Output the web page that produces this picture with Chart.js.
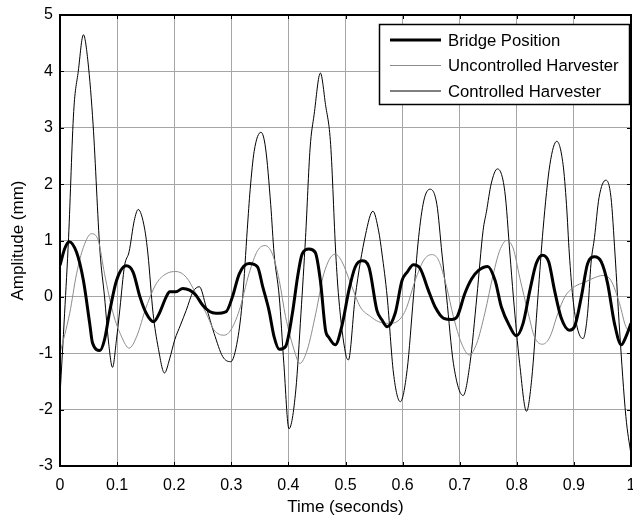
<!DOCTYPE html>
<html><head><meta charset="utf-8">
<script src="https://cdn.jsdelivr.net/npm/chart.js@4/dist/chart.umd.min.js"></script>
<style>html,body{margin:0;padding:0;background:#fff}#wrap{width:633px;height:516px}</style>
</head><body><div id="wrap"><canvas id="c" width="633" height="516"></canvas></div>
<script>
const seriesLabels = ['Bridge Position', 'Uncontrolled Harvester', 'Controlled Harvester'];
const xTicks = [0,0.1,0.2,0.3,0.4,0.5,0.6,0.7,0.8,0.9,1];
const yTicks = [-3,-2,-1,0,1,2,3,4,5];

const bridgeT = [0,0.008,0.016,0.029,0.041,0.052,0.057,0.07,0.078,0.087,0.099,0.116,0.128,0.14,0.151,0.164,0.174,0.186,0.192,0.203,0.215,0.227,0.238,0.25,0.262,0.273,0.291,0.302,0.314,0.331,0.346,0.355,0.366,0.375,0.384,0.395,0.407,0.416,0.424,0.436,0.447,0.456,0.465,0.471,0.482,0.494,0.506,0.517,0.529,0.541,0.555,0.564,0.573,0.587,0.599,0.608,0.619,0.631,0.645,0.657,0.672,0.686,0.695,0.709,0.721,0.733,0.749,0.762,0.773,0.788,0.799,0.811,0.823,0.834,0.845,0.856,0.866,0.878,0.892,0.901,0.913,0.924,0.936,0.948,0.959,0.971,0.983,0.991,1.0];
const bridgeY = [0.56,0.85,0.98,0.79,0.29,-0.47,-0.82,-0.95,-0.76,-0.26,0.29,0.55,0.44,0,-0.29,-0.44,-0.29,0,0.09,0.09,0.15,0.12,0.03,-0.15,-0.26,-0.29,-0.26,0,0.41,0.59,0.53,0.18,-0.24,-0.71,-0.93,-0.88,-0.29,0.35,0.76,0.85,0.79,0.29,-0.59,-0.72,-0.85,-0.5,0.12,0.53,0.64,0.53,-0.24,-0.41,-0.53,-0.29,0.29,0.44,0.57,0.5,0.12,-0.18,-0.38,-0.4,-0.36,0.06,0.32,0.47,0.54,0.29,-0.18,-0.53,-0.69,-0.47,0.12,0.59,0.74,0.62,0.12,-0.38,-0.59,-0.53,0,0.59,0.71,0.62,0.24,-0.47,-0.85,-0.71,-0.47];

const uncontrolledT = [0,0.017,0.029,0.041,0.055,0.067,0.078,0.093,0.108,0.121,0.134,0.151,0.169,0.186,0.203,0.221,0.238,0.256,0.27,0.288,0.299,0.314,0.331,0.346,0.359,0.372,0.384,0.395,0.41,0.42,0.433,0.448,0.462,0.482,0.494,0.509,0.526,0.544,0.558,0.576,0.59,0.605,0.622,0.637,0.651,0.663,0.677,0.689,0.703,0.717,0.73,0.744,0.759,0.77,0.782,0.794,0.805,0.82,0.831,0.845,0.858,0.872,0.884,0.901,0.919,0.936,0.951,0.965,0.98,0.991,1.0];
const uncontrolledY = [-1.0,-0.29,0.41,0.88,1.12,1.0,0.41,-0.29,-0.71,-0.91,-0.71,-0.18,0.24,0.41,0.45,0.35,0.06,-0.29,-0.59,-0.68,-0.59,-0.24,0.41,0.82,0.91,0.76,0.29,-0.35,-0.94,-1.18,-0.94,-0.29,0.41,0.76,0.62,0.24,-0.18,-0.35,-0.44,-0.47,-0.44,-0.24,0.29,0.65,0.75,0.65,0.18,-0.35,-0.82,-1.03,-0.82,-0.29,0.41,0.82,1.0,0.85,0.35,-0.29,-0.71,-0.84,-0.71,-0.29,0,0.18,0.26,0.34,0.38,0.29,-0.12,-0.53,-0.62];

const controlledT = [0,0.008,0.015,0.024,0.032,0.041,0.049,0.058,0.07,0.078,0.085,0.092,0.099,0.105,0.113,0.121,0.13,0.137,0.148,0.154,0.163,0.172,0.183,0.192,0.201,0.211,0.221,0.233,0.244,0.256,0.27,0.285,0.299,0.311,0.32,0.328,0.333,0.34,0.352,0.36,0.369,0.375,0.384,0.392,0.401,0.413,0.422,0.43,0.438,0.445,0.456,0.465,0.474,0.483,0.488,0.5,0.505,0.517,0.535,0.548,0.558,0.564,0.573,0.584,0.596,0.608,0.619,0.628,0.637,0.648,0.66,0.669,0.677,0.689,0.706,0.718,0.73,0.741,0.747,0.755,0.766,0.779,0.788,0.794,0.805,0.817,0.826,0.837,0.846,0.858,0.87,0.881,0.887,0.892,0.898,0.906,0.916,0.924,0.93,0.936,0.944,0.956,0.965,0.972,0.98,0.991,1.0];
const controlledY = [-1.75,-0.3,1.05,3.29,4.0,4.65,4.17,3.05,0.81,0,-0.8,-1.25,-0.75,-0.2,0.55,0.8,1.35,1.55,1.22,0.76,-0.29,-0.9,-1.35,-1.1,-0.76,-0.5,-0.24,0.09,0.18,-0.18,-0.65,-1.06,-1.15,-0.76,0,1.2,1.9,2.58,2.92,2.64,1.64,0.76,0,-1.18,-2.34,-1.65,-0.29,1.05,2.64,3.23,3.97,3.41,2.7,0.76,0,-1.0,-1.12,0,1.1,1.52,1.17,0.76,0,-1.35,-1.86,-1.29,0,1.05,1.7,1.91,1.64,0.76,0,-1.18,-1.75,-1.18,0,1.18,1.52,2.0,2.27,1.87,0.76,0,-1.18,-2.03,-1.47,0,1.2,2.35,2.76,2.35,1.64,0.76,0,-0.55,-0.74,-0.29,0.6,1.05,1.76,2.07,1.76,0.76,-0.59,-2.12,-2.8];

const FONT = "'Liberation Sans', Arial, sans-serif";
const pts = (t, y) => t.map((v, i) => ({x: v, y: y[i]}));

const framePlugin = {
  id: 'frame',
  afterDatasetsDraw(chart) {
    const {ctx, chartArea: a, scales} = chart;
    ctx.save();
    ctx.strokeStyle = '#000';
    ctx.lineWidth = 1;
    const tl = 4;
    ctx.beginPath();
    xTicks.forEach(v => {
      const px = Math.round(scales.x.getPixelForValue(v)) + 0.5;
      ctx.moveTo(px, a.bottom); ctx.lineTo(px, a.bottom - tl);
      ctx.moveTo(px, a.top); ctx.lineTo(px, a.top + tl);
    });
    yTicks.forEach(v => {
      const py = Math.round(scales.y.getPixelForValue(v)) + 0.5;
      ctx.moveTo(a.left, py); ctx.lineTo(a.left + tl, py);
      ctx.moveTo(a.right, py); ctx.lineTo(a.right - tl, py);
    });
    ctx.stroke();
    ctx.lineWidth = 2;
    ctx.strokeRect(a.left, a.top, a.right - a.left, a.bottom - a.top);
    // legend
    const bw = 250, bh = 80;
    const bx = a.right - 2 - bw, by = a.top + 9;
    ctx.fillStyle = '#fff';
    ctx.fillRect(bx, by, bw, bh);
    ctx.lineWidth = 1.5;
    ctx.strokeRect(bx + 0.5, by + 0.5, bw, bh);
    ctx.font = '16.7px ' + FONT;
    ctx.textBaseline = 'middle';
    chart.data.datasets.forEach((ds, i) => {
      const yy = by + 16 + i * 25.5;
      ctx.beginPath();
      ctx.strokeStyle = ds.borderColor;
      ctx.lineWidth = ds.borderWidth;
      ctx.moveTo(bx + 11, yy); ctx.lineTo(bx + 62, yy);
      ctx.stroke();
      ctx.fillStyle = '#000';
      ctx.fillText(ds.label, bx + 69, yy + 1);
    });
    ctx.restore();
  }
};

new Chart(document.getElementById('c'), {
  type: 'line',
  data: {
    datasets: [
      {label: seriesLabels[0], data: pts(bridgeT, bridgeY), borderColor: '#000', borderWidth: 3},
      {label: seriesLabels[1], data: pts(uncontrolledT, uncontrolledY), borderColor: '#8c8c8c', borderWidth: 1},
      {label: seriesLabels[2], data: pts(controlledT, controlledY), borderColor: '#000', borderWidth: 1}
    ]
  },
  options: {
    responsive: false,
    animation: false,
    devicePixelRatio: 1,
    layout: {padding: {left: 0, right: 2, top: 15, bottom: 0}},
    elements: {point: {radius: 0}, line: {cubicInterpolationMode: 'monotone', fill: false}},
    plugins: {legend: {display: false}, tooltip: {enabled: false}},
    scales: {
      x: {
        type: 'linear', min: 0, max: 1,
        afterBuildTicks: s => { s.ticks = xTicks.map(v => ({value: v})); },
        afterFit: s => { s.height = 50; s.paddingLeft = 0; s.paddingRight = 0; },
        ticks: {color: '#000', font: {family: FONT, size: 16}, padding: 10, maxRotation: 0, autoSkip: false,
          callback: v => String(v)},
        grid: {color: '#a6a6a6', lineWidth: 1, tickLength: 0, drawTicks: false},
        border: {display: false},
        title: {display: true, text: 'Time (seconds)', color: '#000', font: {family: FONT, size: 17, lineHeight: 1}, padding: {top: 0, bottom: 0}}
      },
      y: {
        type: 'linear', min: -3, max: 5,
        afterBuildTicks: s => { s.ticks = yTicks.map(v => ({value: v})); },
        afterFit: s => { s.width = 60; s.paddingTop = 0; s.paddingBottom = 0; },
        ticks: {color: '#000', font: {family: FONT, size: 16}, padding: 7, autoSkip: false},
        grid: {color: '#a6a6a6', lineWidth: 1, tickLength: 0, drawTicks: false},
        border: {display: false},
        title: {display: true, text: 'Amplitude (mm)', color: '#000', font: {family: FONT, size: 17, lineHeight: 1}, padding: {top: 10, bottom: 0}}
      }
    }
  },
  plugins: [framePlugin]
});
</script>
</body></html>
